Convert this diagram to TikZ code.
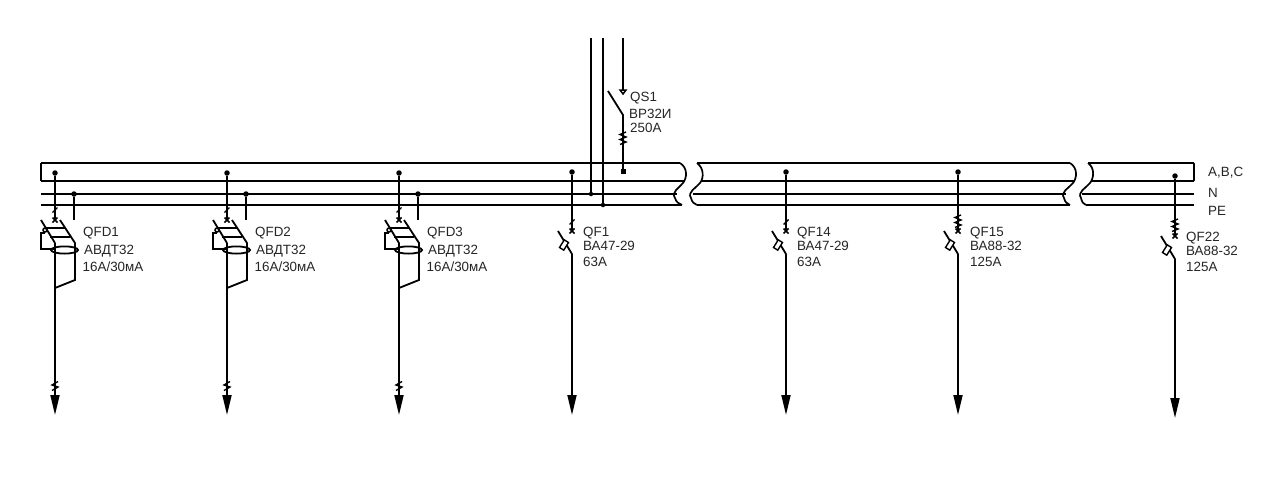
\documentclass[tikz,border=0pt]{standalone}
\usepackage{fontspec}
\setmainfont{Liberation Sans}
\usetikzlibrary{arrows.meta}
\tikzset{
  thinw/.style={line width=1.5pt,black},
  thickw/.style={line width=2pt,black},
  wavew/.style={line width=1.7pt,black},
  feeder/.style={line width=1.8pt,black,-{Triangle[length=20pt,width=9pt]}},
  wire/.style={line width=1.8pt,black},
  wirethin/.style={line width=1.5pt,black},
  joint/.style={circle,fill=black,inner sep=0pt,minimum size=5.5pt},
  sqjoint/.style={rectangle,fill=black,inner sep=0pt,minimum size=5pt},
  lab/.style={anchor=base west,inner sep=0pt,font=\fontsize{13.4}{15}\selectfont,text=black!85}
}
\newcommand{\xmark}[2]{\draw[line width=1.7pt] (#1-2.5,#2-2.5)--(#1+2.5,#2+2.5) (#1+2.5,#2-2.5)--(#1-2.5,#2+2.5);}
\newcommand{\zigsm}[2]{\draw[line width=1.4pt] (#1+3,#2-4.5)--(#1-3,#2-1)--(#1+3,#2+1)--(#1-3,#2+4.5);}
\newcommand{\tick}[2]{\draw[line width=1.4pt] (#1+2.5,#2-2.5)--(#1-2.5,#2+2.5);}
\newcommand{\coil}[2]{\draw[line width=1.4pt] (#1+3,#2-6)--(#1-3,#2-3.5)--(#1+3,#2-1)--(#1-3,#2+1.5)--(#1+3,#2+4)--(#1-3,#2+6.5);}
\newcommand{\qfd}[3]{%
  \node[joint] (#1top) at (#2,173) {};
  \node[joint] (#1nt) at (#2+19,194) {};
  \coordinate (#1nend) at (#2+19,220);
  \coordinate (#1c) at (#2,220);
  \coordinate (#1d) at (#2,243);
  \coordinate (#1tip) at (#2,415);
  \draw[wire] (#1top)--(#1c);
  \draw[wirethin] (#1nt)--(#1nend);
  \tick{#2}{210}
  \xmark{#2}{220}
  \draw[wire] (#2-14,220)--(#1d);
  \draw[wire] (#2+5,220)--(#2+20,243)--(#2+20,280)--(#2,288);
  \draw[wirethin] (#2-10,228)--(#2+10,228) (#2-5,237)--(#2+15,237);
  \draw[wirethin] (#2-10,233)--(#2-14,233)--(#2-14,249)--(#2,249);
  \draw[wirethin] (#2-10,230) circle [radius=2];
  \draw[wire] (#1d)--(#2,395);
  \draw[wire] (#2+9.5,250) ellipse [x radius=13.5,y radius=3.6];
  \draw[feeder] (#2,385)--(#1tip);
  \zigsm{#2}{386}
  \node[lab] (#1l1) at (#2+28,236.5) {#3};
  \node[lab] (#1l2) at (#2+29,254) {АВДТ32};
  \node[lab] (#1l3) at (#2+27.5,271.5) {16А/30мА};
}
\newcommand{\qf}[8]{%
  \node[joint] (#1top) at (#2,#3) {};
  \coordinate (#1x) at (#2,#4);
  \coordinate (#1bl) at (#2,#4+23);
  \coordinate (#1tip) at (#2,#5);
  \draw[wire] (#1top)--(#1x);
  \xmark{#2}{#4}
  \draw[wire] (#2-14,#4)--(#1bl);
  \draw[line width=1.4pt,fill=white,rotate around={58:(#2-8,#4+14)}] (#2-12.5,#4+11.5) rectangle (#2-3.5,#4+16.5);
  \draw[feeder] (#1bl)--(#1tip);
  #6
  \node[lab] (#1l1) at (#2+#7,#4+5) {#8};
}
\begin{document}
\begin{tikzpicture}[x=1pt,y=-1pt]
\useasboundingbox (0,0) rectangle (1280,498);
\fill[white] (0,0) rectangle (1280,498);
% first segment
\draw[thinw] (680,163) -- (41,163);
\draw[thinw] (41,163) -- (41,181);
\draw[thickw] (41,181) -- (685,181);
\draw[thinw] (41,194) -- (677,194);
\draw[thickw] (41,205) -- (682,205);
\draw[wavew] (680,163) .. controls (688,168) and (687,178) .. (683,183) .. controls (679,188) and (671,192) .. (675,198) .. controls (676,202) and (679,204) .. (682,205);
% second segment
\draw[thinw] (697,163) -- (1070,163);
\draw[thickw] (701,181) -- (1075,181);
\draw[thinw] (693,194) -- (1066,194);
\draw[thickw] (697,205) -- (1070,205);
\draw[wavew] (697,163) .. controls (704,168) and (704,178) .. (700,183) .. controls (696,188) and (687,192) .. (691,198) .. controls (692,202) and (694,204) .. (697,205);
\draw[wavew] (1070,163) .. controls (1078,168) and (1077,178) .. (1073,183) .. controls (1069,188) and (1060,192) .. (1064,198) .. controls (1065,202) and (1067,204) .. (1070,205);
% third segment
\draw[thinw] (1088,163) -- (1194,163);
\draw[thinw] (1194,163) -- (1194,181);
\draw[thickw] (1092,181) -- (1194,181);
\draw[thinw] (1082,194) -- (1194,194);
\draw[thickw] (1086,205) -- (1194,205);
\draw[wavew] (1088,163) .. controls (1095,168) and (1094,178) .. (1090,183) .. controls (1086,188) and (1077,192) .. (1081,198) .. controls (1082,202) and (1083,204) .. (1086,205);
\node[lab] (busa) at (1208,176.5) {A,B,C};
\node[lab] (busn) at (1208,197.5) {N};
\node[lab] (buspe) at (1208,215.5) {PE};
% incoming
\coordinate (in1) at (591,38);
\coordinate (in2) at (603,38);
\coordinate (in3) at (623,38);
\node[joint,minimum size=4.5pt] (jn) at (591,194) {};
\node[joint,minimum size=4.5pt] (jpe) at (603,205) {};
\node[sqjoint] (jl) at (623,171.5) {};
\coordinate (qsa) at (623,92);
\coordinate (qsb) at (623,115);
\draw[wire] (in1)--(jn);
\draw[wire] (in2)--(jpe);
\draw[wire] (in3)--(qsa);
\draw[line width=1.5pt,fill=white] (620,90) -- (626,90) -- (623,94) -- cycle;
\draw[wire] (608,91)--(qsb)--(jl);
\coil{623}{138}
\node[lab] (qs1) at (630,101) {QS1};
\node[lab] (qs2) at (629,118) {ВР32И};
\node[lab] (qs3) at (630,132) {250А};
% QFD
\qfd{qa}{55}{QFD1}
\qfd{qb}{227}{QFD2}
\qfd{qc}{399}{QFD3}
% QF
\qf{qfa}{572}{172}{231}{415}{\tick{572}{222}}{11}{QF1}
\node[lab] (qfa2) at (583,250.5) {ВА47-29};
\node[lab] (qfa3) at (583,266.5) {63А};
\qf{qfb}{786}{172}{231}{415}{\tick{786}{222}}{11}{QF14}
\node[lab] (qfb2) at (797,250.5) {ВА47-29};
\node[lab] (qfb3) at (797,266.5) {63А};
\qf{qfc}{958}{172}{231}{415}{\coil{958}{221}}{12}{QF15}
\node[lab] (qfc2) at (970,250.5) {ВА88-32};
\node[lab] (qfc3) at (970,266.5) {125А};
\qf{qfd}{1175}{176}{236}{418}{\coil{1175}{225}}{11}{QF22}
\node[lab] (qfd2) at (1186,255) {ВА88-32};
\node[lab] (qfd3) at (1186,271) {125А};
\end{tikzpicture}
\end{document}
